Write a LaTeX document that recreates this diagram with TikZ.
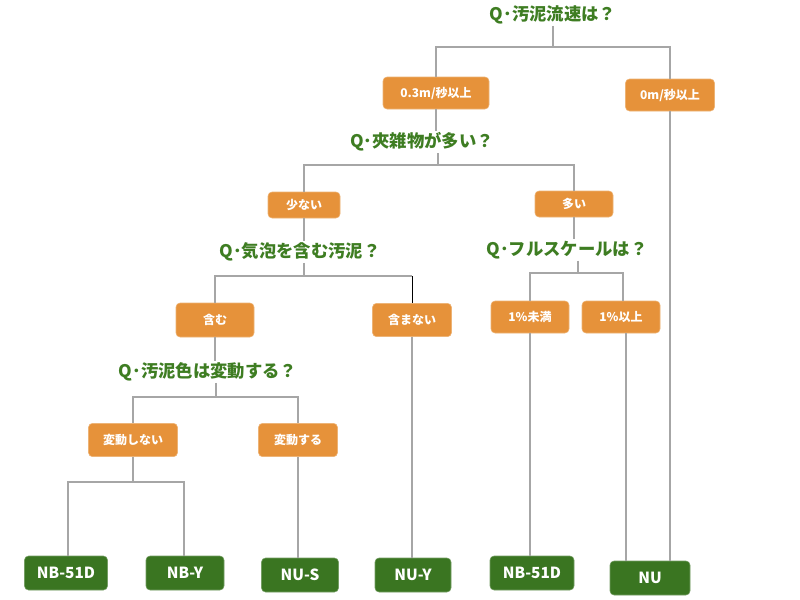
\documentclass[tikz,border=0pt]{standalone}
\usepackage{fontspec}
\setmainfont{Noto Sans CJK JP}
\definecolor{boxorange}{HTML}{E6923A}
\definecolor{boxgreen}{HTML}{3A7521}
\definecolor{qgreen}{HTML}{3E7D22}
\definecolor{linegray}{HTML}{A6A6A6}
\begin{document}
\begin{tikzpicture}[x=0.75pt, y=-0.75pt,
  quest/.style={text=qgreen, font=\bfseries\fontsize{13}{15}\selectfont, inner sep=1pt},
  ans/.style={fill=boxorange, draw=boxorange!70!white, rounded corners=3pt, inner sep=0pt,
              text=white, font=\bfseries\fontsize{9}{11}\selectfont},
  res/.style={fill=boxgreen, draw=boxgreen!70!white, rounded corners=3pt, inner sep=0pt,
              minimum height=25.5pt, text=white, font=\bfseries\fontsize{11.5}{13}\selectfont},
  conn/.style={draw=linegray, line width=1.5pt}
]
\useasboundingbox[fill=white] (0,0) rectangle (800,600);

\node[quest] (q1) at (553,15) {Q･汚泥流速は？};
\node[ans, minimum width=79.5pt, minimum height=24pt] (a1) at (436,93) {0.3m/秒以上};
\node[ans, minimum width=66.75pt, minimum height=24pt] (a2) at (670,95) {0m/秒以上};
\node[quest] (q2) at (422,142) {Q･夾雑物が多い？};
\node[ans, minimum width=54pt, minimum height=19.5pt] (a3) at (304,205) {少ない};
\node[ans, minimum width=58.5pt, minimum height=19.5pt] (a4) at (574,204) {多い};
\node[quest] (q3) at (300,252) {Q･気泡を含む汚泥？};
\node[quest] (q4) at (567,250) {Q･フルスケールは？};
\node[ans, minimum width=58.5pt, minimum height=25.5pt] (a5) at (215,320) {含む};
\node[ans, minimum width=59.25pt, minimum height=25pt] (a6) at (412,320) {含まない};
\node[ans, minimum width=58.5pt, minimum height=24pt] (a7) at (530,317) {1\%未満};
\node[ans, minimum width=58.5pt, minimum height=24pt] (a8) at (621,317) {1\%以上};
\node[quest] (q5) at (208,372) {Q･汚泥色は変動する？};
\node[ans, minimum width=66.75pt, minimum height=25pt] (a9) at (133,440) {変動しない};
\node[ans, minimum width=59.25pt, minimum height=25pt] (a10) at (298,440) {変動する};

\node[res, minimum width=62.25pt] (r1) at (66,573) {NB-51D};
\node[res, minimum width=58.5pt] (r2) at (185,573) {NB-Y};
\node[res, minimum width=57.75pt] (r3) at (300,575) {NU-S};
\node[res, minimum width=57pt] (r4) at (413,575) {NU-Y};
\node[res, minimum width=63pt] (r5) at (532,573) {NB-51D};
\node[res, minimum width=60pt] (r6) at (650,578) {NU};

\coordinate (b1) at (553,47);
\coordinate (b2) at (438,165);
\coordinate (b3) at (304,276);
\coordinate (b4) at (578,273);
\coordinate (b5) at (216,397);
\coordinate (b6) at (133,482);

\draw[conn] (q1.south) -- (b1);
\draw[conn] (b1) -| (a1.north);
\draw[conn] (b1) -| (a2.north);

\draw[conn] (a1.south) -- (a1.south |- q2.north);
\draw[conn] (b2 |- q2.south) -- (b2);
\draw[conn] (b2) -| (a3.north);
\draw[conn] (b2) -| (a4.north);

\draw[conn] (a3.south) -- (a3.south |- q3.north);
\draw[conn] (b3 |- q3.south) -- (b3);
\draw[conn] (b3) -| (a5.north);
\draw[conn] (b3) -- (b3 -| a6.north);
\draw[black, line width=0.75pt] (b3 -| a6.north) -- (a6.north);

\draw[conn] (a4.south) -- (a4.south |- q4.north);
\draw[conn] (b4 |- q4.south) -- (b4);
\draw[conn] (b4) -| (a7.north);
\draw[conn] (b4) -| ([xshift=1.5pt]a8.north);

\draw[conn] (a5.south) -- (a5.south |- q5.north);
\draw[conn] (b5 |- q5.south) -- (b5);
\draw[conn] (b5) -| (a9.north);
\draw[conn] (b5) -| (a10.north);

\draw[conn] (a9.south) -- (b6);
\draw[conn] (b6) -| ([xshift=1.5pt]r1.north);
\draw[conn] (b6) -| ([xshift=-0.75pt]r2.north);

\draw[conn] (a10.south) -- (a10.south |- r3.north);
\draw[conn] (a6.south) -- (a6.south |- r4.north);
\draw[conn] (a7.south) -- (a7.south |- r5.north);
\draw[conn] ([xshift=3.75pt]a8.south) -- ([xshift=3.75pt]a8.south |- r6.north);
\draw[conn] (a2.south) -- (a2.south |- r6.north);
\end{tikzpicture}
\end{document}
